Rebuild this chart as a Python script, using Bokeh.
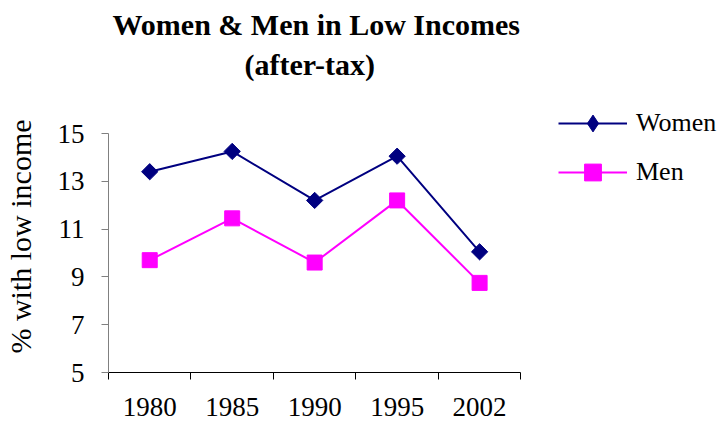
from bokeh.plotting import figure
from bokeh.models import Range1d, FixedTicker, Title, Legend, LegendItem
from bokeh.embed import file_html
from bokeh.resources import INLINE

years = ["1980", "1985", "1990", "1995", "2002"]
women = [13.4, 14.25, 12.2, 14.05, 10.05]
men = [9.7, 11.45, 9.6, 12.2, 8.75]
y_ticks = [5, 7, 9, 11, 13, 15]

FONT = "Liberation Serif"
NAVY = "#000080"
MAGENTA = "#FF00FF"

# layout geometry (pixels): axes area 107..520 x 133..372, frame extended to hold the legend
W, H = 723, 423
AX_L, AX_R, AX_T, AX_B = 107, 520, 133, 372
FR_T = 100
x_end = len(years) * (W - AX_L) / (AX_R - AX_L)
y_end = y_ticks[0] + (y_ticks[-1] - y_ticks[0]) * (AX_B - FR_T) / (AX_B - AX_T)

xs = [i + 0.5 for i in range(len(years))]

p = figure(width=W, height=H, output_backend="svg", toolbar_location=None,
           x_range=Range1d(0, x_end), y_range=Range1d(y_ticks[0], y_end),
           min_border_left=AX_L, min_border_right=0, min_border_top=FR_T,
           min_border_bottom=H - AX_B)
p.outline_line_color = None
p.xgrid.visible = False
p.ygrid.visible = False
p.background_fill_color = "white"

# lines and markers
lw = p.line(xs, women, line_color=NAVY, line_width=2)
# diamond symbol used for the legend key (drawn at zero size under the real markers)
mw_key = p.scatter(xs, women, marker="diamond", size=0, fill_color=NAVY, line_color=NAVY)
mw = p.scatter(xs, women, marker="square", size=11.5, angle=0.785398,
               fill_color=NAVY, line_color=NAVY)
lm = p.line(xs, men, line_color=MAGENTA, line_width=2)
mm = p.scatter(xs, men, marker="square", size=15, fill_color=MAGENTA, line_color=MAGENTA)

# x axis
xa = p.xaxis[0]
xa.bounds = (0, len(years))
xa.ticker = FixedTicker(ticks=xs, minor_ticks=list(range(len(years) + 1)))
xa.major_label_overrides = {x: y for x, y in zip(xs, years)}
xa.major_tick_out = 0
xa.major_tick_in = 0
xa.minor_tick_out = 7
xa.minor_tick_in = 0
xa.minor_tick_line_color = "black"
xa.axis_line_color = "black"
xa.major_label_text_font = FONT
xa.major_label_text_font_size = "27px"
xa.major_label_text_color = "black"
xa.major_label_text_line_height = 0.8
xa.major_label_standoff = 18

# y axis
ya = p.yaxis[0]
ya.bounds = (y_ticks[0], y_ticks[-1])
ya.ticker = FixedTicker(ticks=y_ticks, minor_ticks=[])
ya.major_tick_out = 7
ya.major_tick_in = 0
ya.major_tick_line_color = "#808080"
ya.axis_line_color = "#808080"
ya.major_label_text_font = FONT
ya.major_label_text_font_size = "27px"
ya.major_label_text_color = "black"
ya.major_label_standoff = 17
ya.axis_label = "% with low income"
ya.axis_label_text_font = FONT
ya.axis_label_text_font_size = "30px"
ya.axis_label_text_font_style = "normal"
ya.axis_label_text_color = "black"
ya.axis_label_standoff = 18

# titles (spacer panel first, nearest to the frame)
spacer = Title(text=" ", text_font=FONT, text_font_size="10px", standoff=7)
t2 = Title(text="(after-tax)", align="left", offset=136, text_font=FONT,
           text_font_size="30px", text_font_style="bold", text_color="black", standoff=0)
t1 = Title(text="Women & Men in Low Incomes", align="left", offset=4, text_font=FONT,
           text_font_size="30px", text_font_style="bold", text_color="black", standoff=9)
p.add_layout(spacer, "above")
p.add_layout(t2, "above")
p.add_layout(t1, "above")

legend = Legend(items=[LegendItem(label="Women", renderers=[lw, mw_key]),
                       LegendItem(label="Men", renderers=[lm, mm])],
                location=(450, 179), padding=0, margin=0, spacing=7,
                glyph_width=69, glyph_height=42, label_standoff=9,
                label_text_font=FONT, label_text_font_size="26px",
                label_text_color="black", border_line_color=None,
                background_fill_alpha=0)
p.add_layout(legend, "center")

open("out.html", "w").write(file_html(p, INLINE))
